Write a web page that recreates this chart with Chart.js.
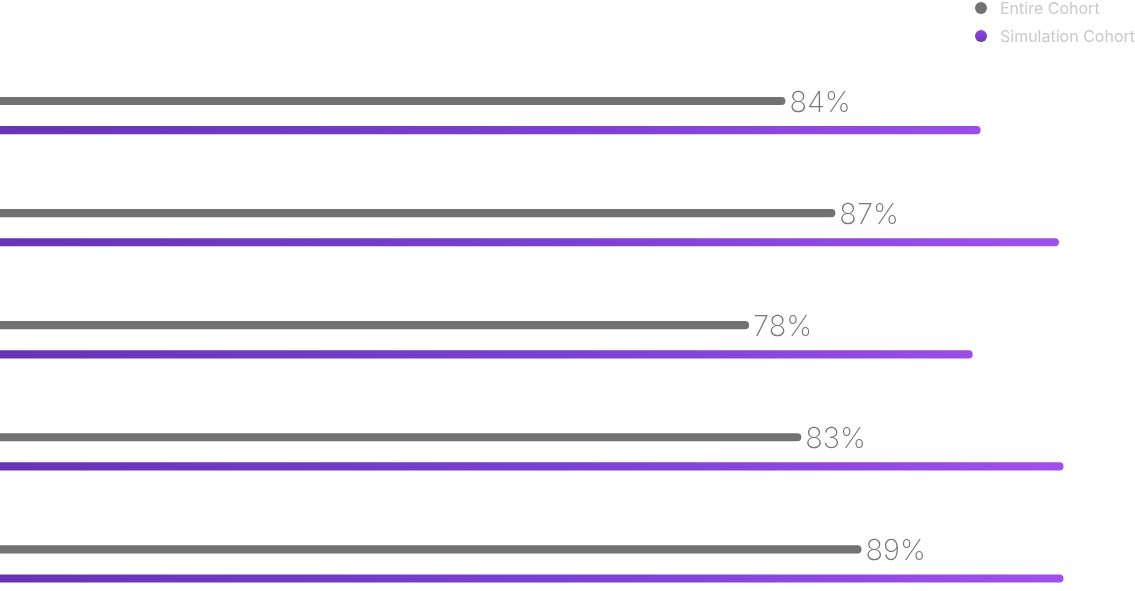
<!DOCTYPE html>
<html>
<head>
<meta charset="utf-8">
<script src="https://cdn.jsdelivr.net/npm/chart.js@4"></script>
<style>
  html, body { margin: 0; padding: 0; background: #fff; overflow: hidden; }
  #wrap { position: absolute; left: 0; top: 0; width: 1135px; height: 620px; }
  #legend { position: absolute; top: 0; left: 975px; font-family: Inter, sans-serif; font-size: 16px; color: #c9c9c9; white-space: nowrap; }
  .item { display: flex; align-items: center; height: 28px; margin-top: -6px; margin-bottom: 6px; }
  .dot { width: 12px; height: 12px; border-radius: 50%; margin-right: 13px; }
</style>
</head>
<body>
<div id="wrap"><canvas id="cohortChart"></canvas></div>
<div id="legend"></div>
<script>
// categories (no visible names in the picture)
const categories = ['1', '2', '3', '4', '5'];
// bar lengths, chart units 0-100 across the full width
const entireValues = [69.2, 73.6, 66.0, 70.6, 75.9];
const simulationValues = [86.4, 93.3, 85.7, 93.7, 93.7];
// value labels printed next to the gray bars
const entireLabels = ['84%', '87%', '78%', '83%', '89%'];
const seriesNames = ['Entire Cohort', 'Simulation Cohort'];

const GRAY = '#727272';

function purpleGradient(context) {
  const chart = context.chart;
  const area = chart.chartArea;
  if (!area) return '#7b3fd0';
  const g = chart.ctx.createLinearGradient(area.left, 0, area.right, 0);
  g.addColorStop(0, '#6734b3');
  g.addColorStop(0.5, '#7d3fd2');
  g.addColorStop(1, '#a653ee');
  return g;
}

// draw the % labels right of the gray bars
const valueLabels = {
  id: 'valueLabels',
  afterDatasetsDraw(chart) {
    const ctx = chart.ctx;
    const meta = chart.getDatasetMeta(0);
    ctx.save();
    ctx.font = '200 29px Inter, sans-serif';
    ctx.fillStyle = '#777777';
    ctx.textAlign = 'left';
    ctx.textBaseline = 'middle';
    meta.data.forEach((bar, i) => {
      ctx.fillText(entireLabels[i], bar.x + 4, bar.y + 2);
    });
    ctx.restore();
  }
};

const chart = new Chart(document.getElementById('cohortChart'), {
  type: 'bar',
  data: {
    labels: categories,
    datasets: [
      {
        label: seriesNames[0],
        data: entireValues,
        backgroundColor: GRAY,
        borderRadius: 4,
        borderSkipped: 'start'
      },
      {
        label: seriesNames[1],
        data: simulationValues,
        backgroundColor: purpleGradient,
        borderRadius: 4,
        borderSkipped: 'start'
      }
    ]
  },
  options: {
    indexAxis: 'y',
    responsive: true,
    maintainAspectRatio: false,
    animation: false,
    categoryPercentage: 0.52,
    barPercentage: 0.28,
    layout: { padding: { top: 59.5, left: 0, right: 0, bottom: 0 } },
    plugins: {
      legend: { display: false },
      tooltip: { enabled: false }
    },
    scales: {
      x: { display: false, min: 0, max: 100 },
      y: { display: false }
    }
  },
  plugins: [valueLabels]
});

// html legend, stacked top right
const legendEl = document.getElementById('legend');
chart.data.datasets.forEach((ds, i) => {
  const row = document.createElement('div');
  row.className = 'item';
  const dot = document.createElement('span');
  dot.className = 'dot';
  dot.style.background = i === 0 ? GRAY : 'linear-gradient(#8b47e2, #6a35b5)';
  const txt = document.createElement('span');
  txt.textContent = ds.label;
  row.appendChild(dot);
  row.appendChild(txt);
  legendEl.appendChild(row);
});
</script>
</body>
</html>
